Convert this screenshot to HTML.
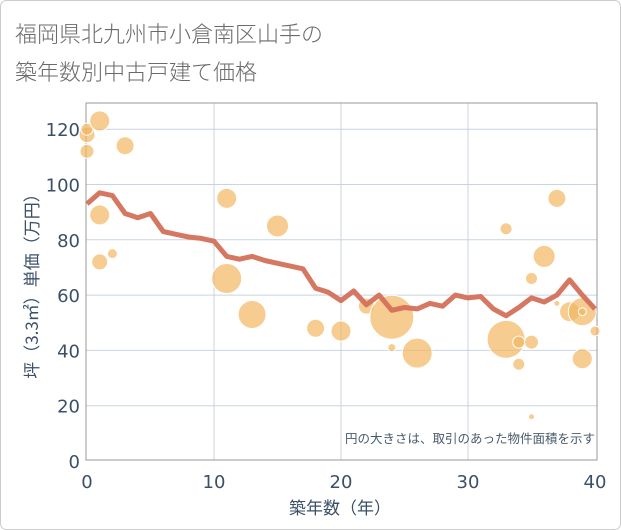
<!DOCTYPE html>
<html><head><meta charset="utf-8"><style>
body{margin:0;background:#fff;}
svg{display:block;font-family:"DejaVu Sans","Noto Sans CJK JP",sans-serif;}
</style></head><body>
<svg id="s" width="621" height="530" xmlns="http://www.w3.org/2000/svg">
<rect x="0.5" y="0.5" width="620" height="529" rx="6" fill="#fff" stroke="#ccc"/>
<text x="15" y="42" font-size="22" fill="#6a6a6a" font-family="'Noto Sans CJK JP',sans-serif" font-weight="300">福岡県北九州市小倉南区山手の</text>
<text x="15" y="80" font-size="22" fill="#6a6a6a" font-family="'Noto Sans CJK JP',sans-serif" font-weight="300">築年数別中古戸建て価格</text>
<g id="grid"></g>
<rect x="86" y="103" width="511" height="357" fill="none" stroke="#999" stroke-width="1"/>
<g id="bub"></g>
<path id="ln" fill="none" stroke="#d4705a" stroke-width="5" stroke-linejoin="round" opacity="0.95"/>
<text x="595" y="443" font-size="12.5" fill="#4a5a6a" text-anchor="end" font-family="'Noto Sans CJK JP',sans-serif">円の大きさは、取引のあった物件面積を示す</text>
<g id="ax" font-size="18" fill="#3b5068"></g>
<text x="340" y="514" font-size="17" fill="#3b5068" text-anchor="middle" font-family="'Noto Sans CJK JP',sans-serif">築年数（年）</text>
<text transform="translate(38,282) rotate(-90)" font-size="17" fill="#3b5068" text-anchor="middle" font-family="'Noto Sans CJK JP',sans-serif">坪（3.3㎡）単価（万円）</text>
</svg>
<script>
const X=v=>87+v*12.7, Y=v=>461-v*2.765;
const ns="http://www.w3.org/2000/svg";
function el(p,t,a,txt){const e=document.createElementNS(ns,t);for(const k in a)e.setAttribute(k,a[k]);if(txt!==undefined)e.textContent=txt;document.getElementById(p).appendChild(e);}
for(let v=20;v<=120;v+=20)el("grid","line",{x1:86,x2:597,y1:Y(v),y2:Y(v),stroke:"#c8d4e2","stroke-width":1});
for(let v=10;v<=30;v+=10)el("grid","line",{x1:X(v),x2:X(v),y1:103,y2:460,stroke:"#c8d4e2","stroke-width":1});
for(let v=0;v<=120;v+=20)el("ax","text",{x:80,y:Y(v)+7,"text-anchor":"end"},String(v));
for(let v=0;v<=40;v+=10)el("ax","text",{x:X(v),y:488,"text-anchor":"middle"},String(v));
const B=[[0,118,8],[0,120,6],[0,112,7],[1,123,10],[3,114,9],[1,89,10],[1,72,8],[2,75,5],[11,95,10],[11,66,15],[13,53,14],[15,85,11],[18,48,9],[20,47,10],[22,56,8],[24,52,22],[24,41,4],[26,39,15],[33,84,6],[33,44,19],[34,43,6],[34,35,6],[35,43,7],[35,66,6],[36,74,11],[37,95,9],[37,57,3],[38,54,10],[39,54,14],[39,54,4],[39,37,10],[40,47,5],[35,16,3]];
B.forEach(b=>el("bub","circle",{cx:X(b[0]),cy:Y(b[1]),r:b[2],fill:"#f2b661","fill-opacity":0.7,stroke:"#fff","stroke-width":1}));
const L=[93,97,96,89.5,88,89.5,83,82,81,80.5,79.5,74,73,74,72.5,71.5,70.5,69.5,62.5,61,58,61.5,56.5,60,54.5,55.5,55,57,56,60,59,59.5,55,52.5,55.5,59,57.5,60,65.5,60,55];
document.getElementById("ln").setAttribute("d",L.map((v,i)=>(i?"L":"M")+X(i).toFixed(1)+" "+Y(v).toFixed(1)).join(""));
</script>
</body></html>
